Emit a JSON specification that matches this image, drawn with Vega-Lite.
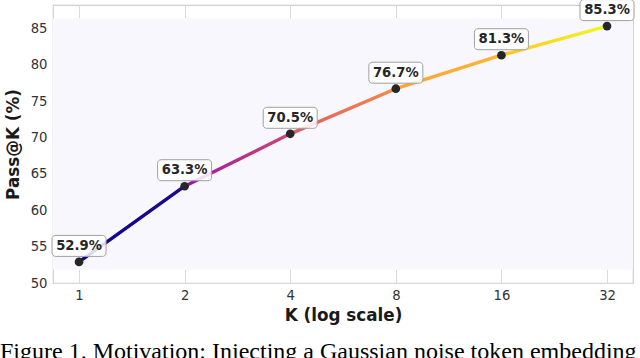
{
  "$schema": "https://vega.github.io/schema/vega-lite/v6.json",
  "width": 580,
  "height": 278,
  "autosize": "none",
  "padding": {"left": 53, "top": 5, "right": 7, "bottom": 75},
  "background": "white",
  "title": {
    "text": "Figure 1. Motivation: Injecting a Gaussian noise token embedding",
    "orient": "bottom",
    "anchor": "start",
    "frame": "group",
    "dx": -53,
    "offset": 35,
    "baseline": "alphabetic",
    "font": "Liberation Serif",
    "fontSize": 24,
    "fontWeight": "normal",
    "color": "#000000"
  },
  "config": {
    "view": {"stroke": "#cfcfcf", "strokeWidth": 1.2},
    "axis": {
      "grid": true,
      "gridColor": "#d9d9d9",
      "gridWidth": 1,
      "domain": false,
      "ticks": false,
      "labelFont": "DejaVu Sans",
      "labelFontSize": 13.2,
      "labelColor": "#333333",
      "titleFont": "DejaVu Sans",
      "titleFontSize": 16.8,
      "titleFontWeight": "bold",
      "titleColor": "#1a1a1a"
    }
  },
  "data": {
    "values": [
      {"K": 1, "pass": 52.9, "label": "52.9%"},
      {"K": 2, "pass": 63.3, "label": "63.3%"},
      {"K": 4, "pass": 70.5, "label": "70.5%"},
      {"K": 8, "pass": 76.7, "label": "76.7%"},
      {"K": 16, "pass": 81.3, "label": "81.3%"},
      {"K": 32, "pass": 85.3, "label": "85.3%"}
    ]
  },
  "encoding": {
    "x": {
      "field": "K",
      "type": "quantitative",
      "scale": {"type": "log", "base": 2, "domain": [0.843, 37.95], "nice": false},
      "axis": {"values": [1, 2, 4, 8, 16, 32], "title": "K (log scale)", "labelPadding": 6, "titlePadding": 6, "labelFlush": false}
    },
    "y": {
      "field": "pass",
      "type": "quantitative",
      "scale": {"domain": [50, 88.2], "nice": false, "zero": false},
      "axis": {"values": [50, 55, 60, 65, 70, 75, 80, 85], "title": "Pass@K (%)", "labelPadding": 6, "titlePadding": 8}
    }
  },
  "layer": [
    {
      "mark": {"type": "rect", "fill": "#f7f7fd", "stroke": null},
      "encoding": {
        "x": {"datum": 0.843, "type": "quantitative"},
        "x2": {"datum": 37.95},
        "y": {"datum": 51.9, "type": "quantitative"},
        "y2": {"datum": 86.3}
      }
    },
    {
      "mark": {
        "type": "line",
        "interpolate": "linear",
        "strokeWidth": 3.4,
        "strokeCap": "round",
        "strokeJoin": "round",
        "stroke": {
          "gradient": "linear",
          "x1": 0, "y1": 0, "x2": 1, "y2": 0,
          "stops": [
            {"offset": 0, "color": "#0d0887"},
            {"offset": 0.195, "color": "#1e078e"},
            {"offset": 0.205, "color": "#9c179e"},
            {"offset": 0.4, "color": "#cc4778"},
            {"offset": 0.41, "color": "#de5f65"},
            {"offset": 0.6, "color": "#f48849"},
            {"offset": 0.61, "color": "#fca338"},
            {"offset": 0.8, "color": "#feb72d"},
            {"offset": 0.81, "color": "#fdc627"},
            {"offset": 1, "color": "#f0f921"}
          ]
        }
      },
      "encoding": {}
    },
    {
      "mark": {"type": "circle", "size": 75, "color": "#262626", "opacity": 1}
    },
    {
      "mark": {"type": "rect", "width": 54, "height": 21, "cornerRadius": 3.5, "fill": "white", "fillOpacity": 0.85, "stroke": "#a0a0a0", "strokeWidth": 1, "yOffset": -16}
    },
    {
      "mark": {"type": "text", "font": "DejaVu Sans", "fontSize": 13.2, "fontWeight": "bold", "color": "#262626", "dy": -16, "align": "center", "baseline": "middle"},
      "encoding": {"text": {"field": "label"}}
    }
  ]
}
